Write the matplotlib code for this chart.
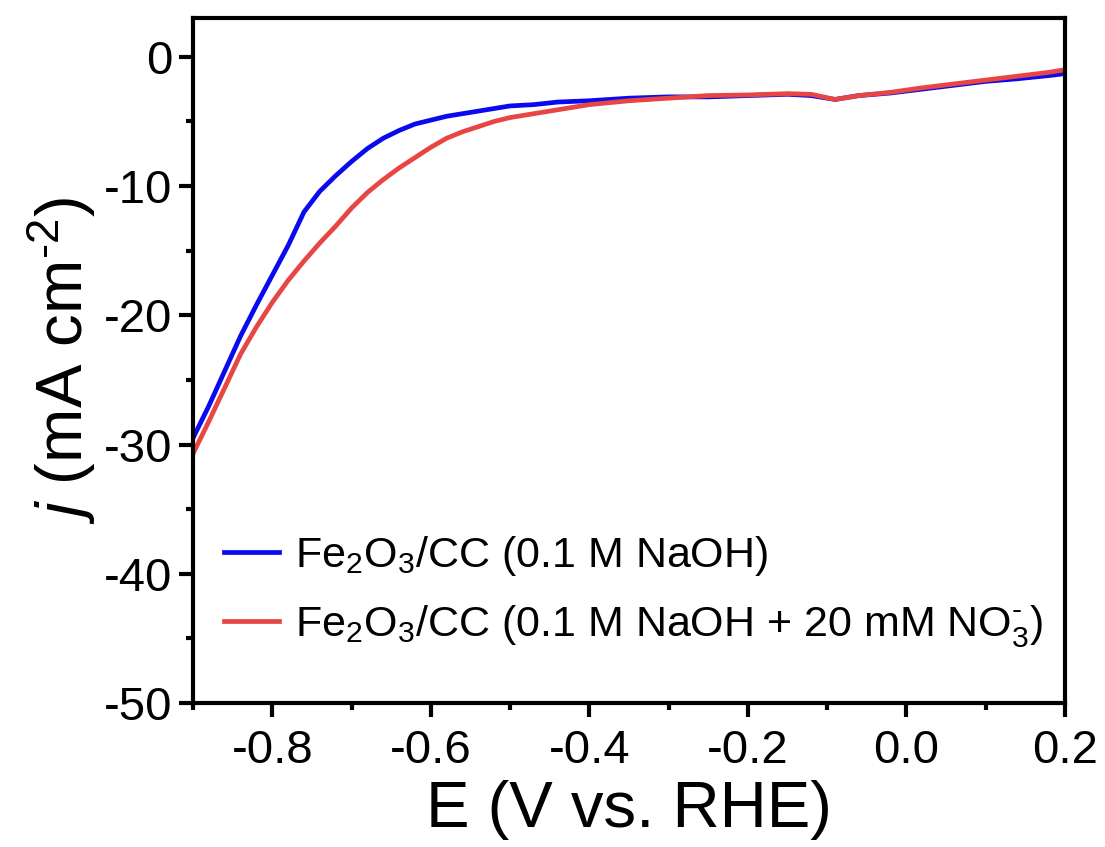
import matplotlib
matplotlib.use("Agg")
import matplotlib.pyplot as plt
from matplotlib.ticker import MultipleLocator, AutoMinorLocator

# LSV curves
e_naoh = [-0.90, -0.88, -0.86, -0.84, -0.82, -0.80, -0.78, -0.77, -0.76, -0.74,
          -0.72, -0.70, -0.68, -0.66, -0.64, -0.62, -0.60, -0.58, -0.55, -0.52,
          -0.50, -0.47, -0.44, -0.40, -0.35, -0.30, -0.25, -0.20, -0.15, -0.12,
          -0.09, -0.06, -0.02, 0.02, 0.06, 0.10, 0.14, 0.18, 0.20]
j_naoh = [-29.5, -27.0, -24.3, -21.6, -19.2, -16.9, -14.6, -13.3, -12.0, -10.4,
          -9.2, -8.1, -7.1, -6.3, -5.7, -5.2, -4.9, -4.6, -4.3, -4.0,
          -3.8, -3.7, -3.5, -3.4, -3.2, -3.1, -3.1, -3.0, -2.9, -3.0,
          -3.3, -3.0, -2.8, -2.5, -2.2, -1.9, -1.7, -1.45, -1.3]

e_no3 = [-0.90, -0.88, -0.86, -0.84, -0.82, -0.80, -0.78, -0.76, -0.74, -0.72,
         -0.70, -0.68, -0.66, -0.64, -0.62, -0.60, -0.58, -0.56, -0.54, -0.52,
         -0.50, -0.47, -0.44, -0.40, -0.35, -0.30, -0.25, -0.20, -0.15, -0.12,
         -0.09, -0.06, -0.02, 0.02, 0.06, 0.10, 0.14, 0.18, 0.20]
j_no3 = [-30.7, -28.2, -25.6, -23.0, -20.9, -19.0, -17.3, -15.8, -14.4, -13.1,
         -11.7, -10.5, -9.5, -8.6, -7.8, -7.0, -6.3, -5.8, -5.4, -5.0,
         -4.7, -4.4, -4.1, -3.7, -3.4, -3.2, -3.0, -2.95, -2.85, -2.9,
         -3.3, -3.0, -2.75, -2.4, -2.1, -1.8, -1.5, -1.2, -1.0]

labels = [r"Fe$_2$O$_3$/CC (0.1 M NaOH)",
          r"Fe$_2$O$_3$/CC (0.1 M NaOH + 20 mM NO$_3^{\text{-}}$)"]

plt.rcParams["font.family"] = ["Liberation Sans", "DejaVu Sans"]
plt.rcParams["mathtext.fontset"] = "custom"
plt.rcParams["mathtext.rm"] = "Liberation Sans"
plt.rcParams["mathtext.it"] = "Liberation Sans:italic"
plt.rcParams["mathtext.default"] = "regular"
plt.rcParams["axes.unicode_minus"] = False

fig = plt.figure(figsize=(11.05, 8.47), dpi=100)
ax = fig.add_axes([0.1747, 0.170, 0.789, 0.8087])

ax.plot(e_naoh, j_naoh, color="#0A0AF0", linewidth=3.4, label=labels[0])
ax.plot(e_no3, j_no3, color="#E84545", linewidth=3.4, label=labels[1])

ax.set_xlim(-0.9, 0.2)
ax.set_ylim(-50, 3)
ax.set_xticks([-0.8, -0.6, -0.4, -0.2, 0.0, 0.2])
ax.xaxis.set_minor_locator(AutoMinorLocator(2))
ax.yaxis.set_major_locator(MultipleLocator(10))
ax.yaxis.set_minor_locator(AutoMinorLocator(2))

for s in ax.spines.values():
    s.set_linewidth(3)
ax.tick_params(which="major", direction="out", length=10, width=3,
               labelsize=34, pad=5)
ax.tick_params(axis="x", which="major", pad=9)
ax.tick_params(which="minor", direction="out", length=5, width=3)

ax.set_xlabel("E (V vs. RHE)", fontsize=47, labelpad=5)
ax.set_ylabel(r"$\it{j}$ (mA cm$^{\text{-}2}$)", fontsize=47, labelpad=4)

ax.legend(loc="lower left", bbox_to_anchor=(-0.009, 0.021), frameon=False,
          fontsize=31, handlelength=1.28, handletextpad=0.38, labelspacing=0.58)

fig.savefig("out.png", dpi=100)
